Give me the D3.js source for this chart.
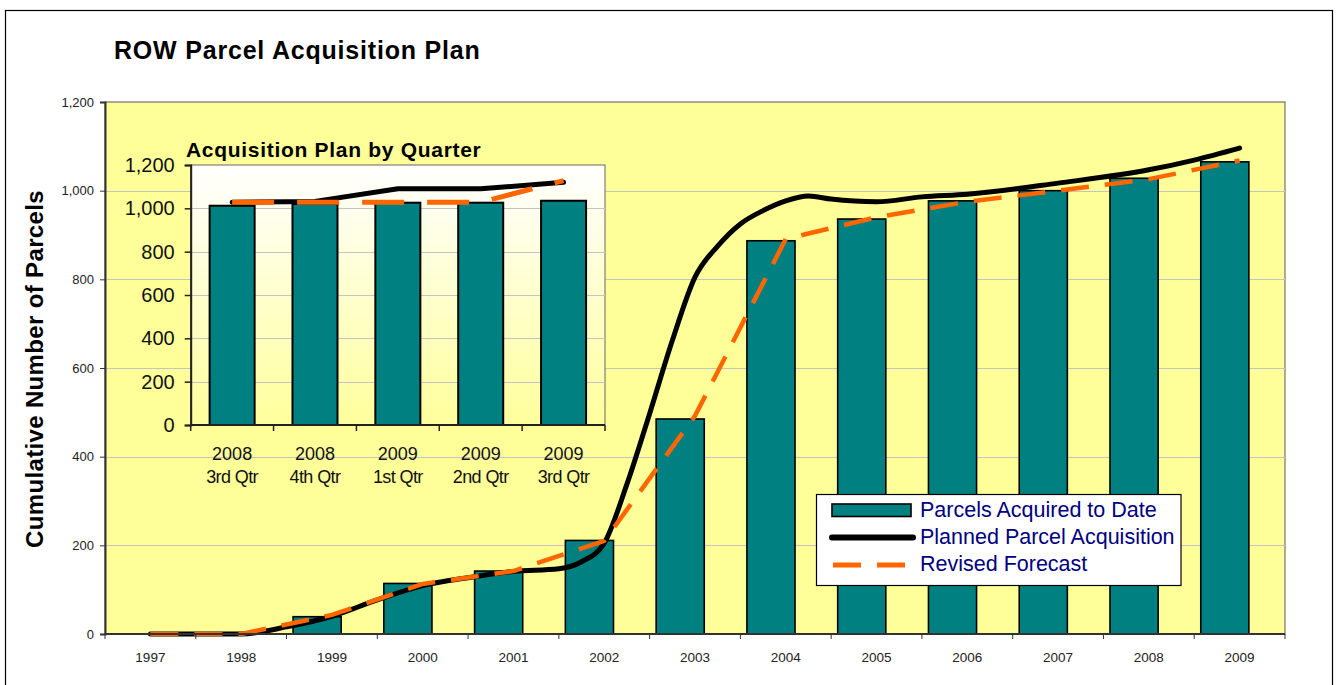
<!DOCTYPE html>
<html>
<head>
<meta charset="utf-8">
<script src="https://cdn.jsdelivr.net/npm/d3@7"></script>
<style>
  html, body { margin: 0; padding: 0; background: #fff; }
  svg { display: block; font-family: Arial, "Liberation Sans", Helvetica, sans-serif; }
</style>
</head>
<body>
<svg id="chart" width="1338" height="685"></svg>
<script>
// ---------------- DATA ----------------
const categories = ["1997","1998","1999","2000","2001","2002","2003","2004","2005","2006","2007","2008","2009"];
const acquired   = [0, 0, 39, 114, 142, 211, 485, 887, 936, 977, 1000, 1028, 1065];
const forecast   = [0, 0, 43, 113, 142, 210, 492, 891, 940, 975, 1000, 1026, 1068];
const planYear   = [1997, 1998, 1998.5, 1999, 1999.5, 2000, 2000.5, 2001, 2001.5, 2001.75, 2002, 2002.25, 2002.5, 2002.75, 2003, 2003.25, 2003.5, 2003.75, 2004, 2004.25, 2004.5, 2005, 2005.5, 2006, 2007, 2008, 2008.5, 2009];
const planValue  = [0, 0, 16, 40, 77, 109, 127, 141, 147, 163, 205, 338, 497, 662, 805, 875, 925, 955, 977, 988, 981, 975, 986, 992, 1017, 1047, 1069, 1096];
const yTicks     = [0, 200, 400, 600, 800, 1000, 1200];

const insetYears    = ["2008", "2008", "2009", "2009", "2009"];
const insetQuarters = ["3rd Qtr", "4th Qtr", "1st Qtr", "2nd Qtr", "3rd Qtr"];
const insetAcquired = [1012, 1020, 1026, 1026, 1035];
const insetPlanned  = [1028, 1032, 1090, 1090, 1120];
const insetForecast = [1028, 1028, 1028, 1028, 1128];

const seriesNames = ["Parcels Acquired to Date", "Planned Parcel Acquisition", "Revised Forecast"];

// ---------------- STYLE ----------------
const TEAL = "#008080", YELLOW = "#FFFF99", ORANGE = "#FF6600", NAVY = "#000080", GRID = "#C4C4C4";

const svg = d3.select("#chart");
svg.append("rect").attr("width", 1338).attr("height", 685).attr("fill", "#fff");
// outer frame
svg.append("rect").attr("x", 5.5).attr("y", 10.5).attr("width", 1327).attr("height", 690)
  .attr("fill", "none").attr("stroke", "#000").attr("stroke-width", 1.2);

// title
svg.append("text").attr("x", 114).attr("y", 58.5)
  .attr("font-size", 25).attr("font-weight", "bold").attr("letter-spacing", 0.8)
  .text("ROW Parcel Acquisition Plan");

// ---------------- MAIN CHART ----------------
const M = { left: 105, right: 1285, top: 102, bottom: 634 };
const x = d3.scaleBand().domain(categories).range([M.left, M.right]).padding(0);
const bw = x.bandwidth();
const y = d3.scaleLinear().domain([0, 1200]).range([M.bottom, M.top]);
const xYear = d3.scaleLinear().domain([1997, 2009])
  .range([x("1997") + bw / 2, x("2009") + bw / 2]);

svg.append("rect").attr("x", M.left).attr("y", M.top)
  .attr("width", M.right - M.left).attr("height", M.bottom - M.top)
  .attr("fill", YELLOW).attr("stroke", "#555").attr("stroke-width", 1);

// gridlines
svg.append("g").selectAll("line").data(yTicks.filter(d => d > 0 && d < 1200)).join("line")
  .attr("x1", M.left).attr("x2", M.right)
  .attr("y1", d => Math.round(y(d)) + 0.5).attr("y2", d => Math.round(y(d)) + 0.5)
  .attr("stroke", GRID).attr("stroke-width", 1);

// bars
svg.append("g").selectAll("rect").data(categories).join("rect")
  .attr("x", d => x(d) + bw * 0.072)
  .attr("width", bw * 0.53)
  .attr("y", (d, i) => y(acquired[i]))
  .attr("height", (d, i) => y(0) - y(acquired[i]))
  .attr("fill", TEAL).attr("stroke", "#000").attr("stroke-width", 1.6)
  .style("display", (d, i) => acquired[i] > 0 ? null : "none");

// planned line
const planPts = planYear.map((t, i) => [xYear(t), y(planValue[i])]);
svg.append("path").datum(planPts)
  .attr("d", d3.line().curve(d3.curveMonotoneX))
  .attr("fill", "none").attr("stroke", "#000").attr("stroke-width", 5)
  .attr("stroke-linecap", "round").attr("stroke-linejoin", "round");

// forecast line
const fcPts = categories.map((c, i) => [x(c) + bw / 2, y(forecast[i])]);
svg.append("path").datum(fcPts)
  .attr("d", d3.line())
  .attr("fill", "none").attr("stroke", ORANGE).attr("stroke-width", 4.5)
  .attr("stroke-dasharray", "28,16");

// y axis
const yAxis = svg.append("g").attr("transform", `translate(${M.left},0)`)
  .call(d3.axisLeft(y).tickValues(yTicks).tickSize(5).tickPadding(6).tickFormat(d3.format(",")));
yAxis.select(".domain").attr("stroke", "#333").attr("stroke-width", 2);
yAxis.selectAll(".tick line").attr("stroke", "#333");
yAxis.selectAll("text").attr("font-size", 13).attr("fill", "#222").attr("font-family", "Arial, 'Liberation Sans', sans-serif");

// x axis
const xAxisG = svg.append("g").attr("transform", `translate(0,${M.bottom})`);
xAxisG.append("line").attr("x1", M.left).attr("x2", M.right).attr("y1", 0).attr("y2", 0)
  .attr("stroke", "#333").attr("stroke-width", 2);
xAxisG.selectAll("line.tk").data(categories.concat(["end"])).join("line").attr("class", "tk")
  .attr("x1", d => d === "end" ? M.right : x(d)).attr("x2", d => d === "end" ? M.right : x(d))
  .attr("y1", 0).attr("y2", 5).attr("stroke", "#333").attr("stroke-width", 1);
xAxisG.selectAll("text").data(categories).join("text")
  .attr("x", d => x(d) + bw / 2).attr("y", 28)
  .attr("text-anchor", "middle").attr("font-size", 13.5).attr("fill", "#222")
  .text(d => d);

// y axis title
svg.append("text")
  .attr("transform", "translate(43,369) rotate(-90)")
  .attr("text-anchor", "middle").attr("font-size", 24).attr("font-weight", "bold")
  .attr("letter-spacing", 0.35)
  .text("Cumulative Number of Parcels");

// ---------------- INSET ----------------
const I = { left: 190.7, right: 605, top: 165, bottom: 425 };
const defs = svg.append("defs");
const grad = defs.append("linearGradient").attr("id", "insetGrad")
  .attr("x1", 0).attr("y1", 0).attr("x2", 0).attr("y2", 1);
grad.append("stop").attr("offset", "0%").attr("stop-color", "#FFFFFF");
grad.append("stop").attr("offset", "100%").attr("stop-color", "#FFFF9C");

const ix = d3.scaleBand().domain(d3.range(insetYears.length)).range([I.left, I.right]).padding(0);
const ibw = ix.bandwidth();
const iy = d3.scaleLinear().domain([0, 1200]).range([I.bottom, I.top]);

svg.append("text").attr("x", 186).attr("y", 157)
  .attr("font-size", 21).attr("font-weight", "bold").attr("letter-spacing", 0.7)
  .text("Acquisition Plan by Quarter");

svg.append("rect").attr("x", I.left).attr("y", I.top)
  .attr("width", I.right - I.left).attr("height", I.bottom - I.top)
  .attr("fill", "url(#insetGrad)").attr("stroke", "#666").attr("stroke-width", 1);

svg.append("g").selectAll("line").data(yTicks.filter(d => d > 0 && d < 1200)).join("line")
  .attr("x1", I.left).attr("x2", I.right)
  .attr("y1", d => Math.round(iy(d)) + 0.5).attr("y2", d => Math.round(iy(d)) + 0.5)
  .attr("stroke", GRID).attr("stroke-width", 1);

svg.append("g").selectAll("rect").data(insetAcquired).join("rect")
  .attr("x", (d, i) => ix(i) + ibw / 2 - 22.5)
  .attr("width", 45)
  .attr("y", d => iy(d)).attr("height", d => iy(0) - iy(d))
  .attr("fill", TEAL).attr("stroke", "#000").attr("stroke-width", 2);

svg.append("path").datum(insetPlanned.map((v, i) => [ix(i) + ibw / 2, iy(v)]))
  .attr("d", d3.line())
  .attr("fill", "none").attr("stroke", "#000").attr("stroke-width", 5)
  .attr("stroke-linecap", "round").attr("stroke-linejoin", "round");

svg.append("path").datum(insetForecast.map((v, i) => [ix(i) + ibw / 2, iy(v)]))
  .attr("d", d3.line())
  .attr("fill", "none").attr("stroke", ORANGE).attr("stroke-width", 5)
  .attr("stroke-dasharray", "42,23");

const iyAxis = svg.append("g").attr("transform", `translate(${I.left},0)`)
  .call(d3.axisLeft(iy).tickValues(yTicks).tickSize(6).tickPadding(10).tickFormat(d3.format(",")));
iyAxis.select(".domain").attr("stroke", "#222").attr("stroke-width", 2);
iyAxis.selectAll(".tick line").attr("stroke", "#222").attr("stroke-width", 1.5);
iyAxis.selectAll("text").attr("font-size", 20).attr("fill", "#111").attr("font-family", "Arial, 'Liberation Sans', sans-serif");

const ixG = svg.append("g").attr("transform", `translate(0,${I.bottom})`);
ixG.append("line").attr("x1", I.left).attr("x2", I.right).attr("stroke", "#222").attr("stroke-width", 2);
ixG.selectAll("line.tk").data(d3.range(insetYears.length + 1)).join("line").attr("class", "tk")
  .attr("x1", d => d < insetYears.length ? ix(d) : I.right)
  .attr("x2", d => d < insetYears.length ? ix(d) : I.right)
  .attr("y1", 0).attr("y2", 6).attr("stroke", "#222").attr("stroke-width", 1.5);
const ilab = ixG.selectAll("text").data(insetYears).join("text")
  .attr("text-anchor", "middle").attr("font-size", 18).attr("fill", "#111");
ilab.append("tspan").attr("x", (d, i) => ix(i) + ibw / 2).attr("y", 35).text(d => d);
ilab.append("tspan").attr("x", (d, i) => ix(i) + ibw / 2).attr("y", 58).attr("letter-spacing", -0.6)
  .text((d, i) => insetQuarters[i]);

// ---------------- LEGEND ----------------
const L = svg.append("g");
L.append("rect").attr("x", 816.5).attr("y", 494.5).attr("width", 364.5).attr("height", 91)
  .attr("fill", "#fff").attr("stroke", "#000").attr("stroke-width", 1.2);
L.append("rect").attr("x", 832).attr("y", 504).attr("width", 79).attr("height", 12.5)
  .attr("fill", TEAL).attr("stroke", "#000").attr("stroke-width", 1.6);
L.append("line").attr("x1", 832).attr("x2", 913).attr("y1", 537.5).attr("y2", 537.5)
  .attr("stroke", "#000").attr("stroke-width", 6).attr("stroke-linecap", "round");
L.append("line").attr("x1", 833).attr("x2", 906).attr("y1", 565).attr("y2", 565)
  .attr("stroke", ORANGE).attr("stroke-width", 5).attr("stroke-dasharray", "28,16");
L.selectAll("text").data(seriesNames).join("text")
  .attr("x", 920).attr("y", (d, i) => 517 + i * 27)
  .attr("font-size", 21.5).attr("fill", NAVY)
  .text(d => d);
</script>
</body>
</html>
